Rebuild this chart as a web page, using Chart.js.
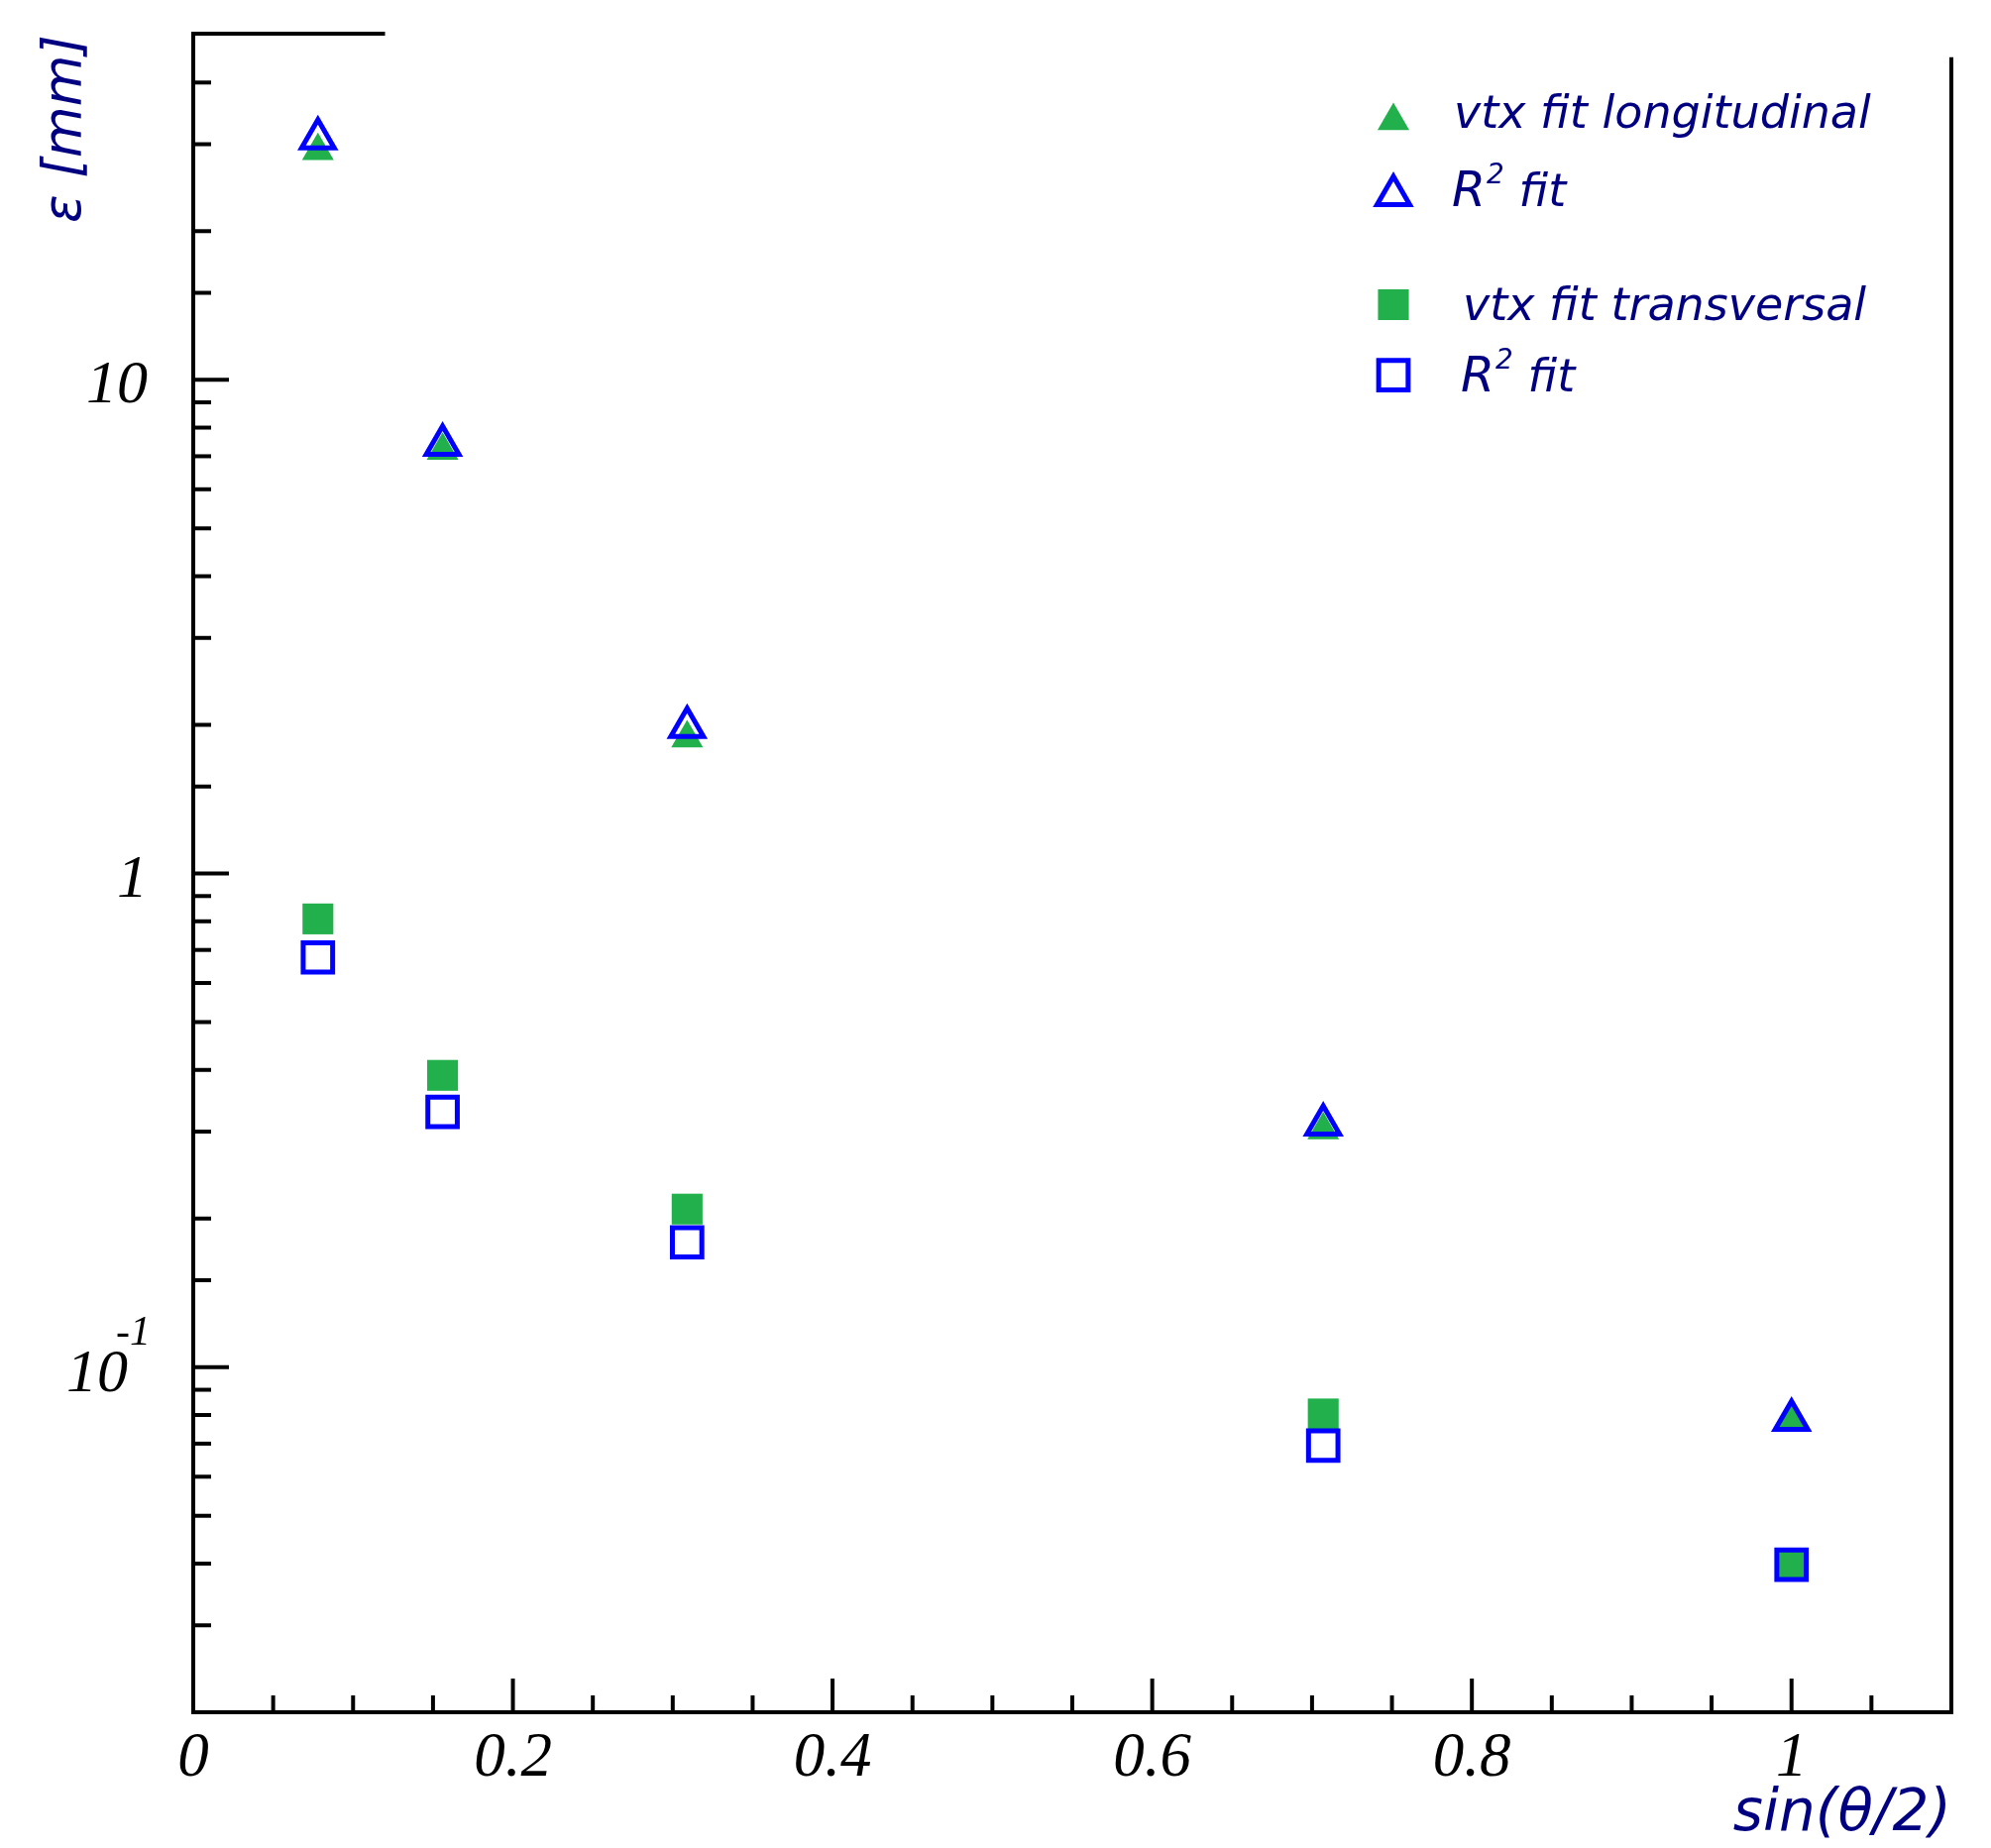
<!DOCTYPE html>
<html>
<head>
<meta charset="utf-8">
<script src="https://cdn.jsdelivr.net/npm/chart.js"></script>
<style>
  html, body { margin: 0; padding: 0; background: #ffffff; }
  #wrap { width: 2009px; height: 1865px; position: relative; }
</style>
</head>
<body>
<div id="wrap"><canvas id="c"></canvas></div>
<script>
// ---------------- data ----------------
const xValues   = [0.078, 0.156, 0.309, 0.707, 1.0];
const longVtx   = [29.1, 7.19, 1.88, 0.302, 0.0772];
const longR2    = [30.8, 7.38, 1.98, 0.310, 0.0782];
const transVtx  = [0.809, 0.390, 0.209, 0.0804, 0.0398];
const transR2   = [0.676, 0.329, 0.179, 0.0694, 0.0398];
const seriesLabels = ['vtx fit longitudinal', 'R² fit', 'vtx fit transversal', 'R² fit'];
const xTickLabels  = ['0', '0.2', '0.4', '0.6', '0.8', '1'];
const yTickValues  = [10, 1, 0.1];
const yTickBases   = ['10', '1', '10'];
const yTickExps    = ['', '', '-1'];
const xTitle = 'sin(θ/2)';
const yTitle = 'ε [mm]';

// ---------------- style ----------------
const GREEN = '#21B04B', BLUE = '#0000FF', NAVY = '#000080';
const SERIF = '"Liberation Serif", "Times New Roman", serif';
const SANS = '"DejaVu Sans", Verdana, sans-serif';
const FRAME_TOP_END_X = 0.12;   // top frame stub ends here (x units)
const FRAME_RIGHT_TOP_Y = 45;   // right frame line starts here (y units)

function pts(ys) { return xValues.map((x, i) => ({ x: x, y: ys[i] })); }

function drawMarker(ctx, style, r, x, y, fill, stroke, bw) {
  ctx.beginPath();
  if (style === 'triangle') {
    let rad = 0;
    ctx.moveTo(x + Math.sin(rad) * r, y - Math.cos(rad) * r);
    rad += 2 * Math.PI / 3;
    ctx.lineTo(x + Math.sin(rad) * r, y - Math.cos(rad) * r);
    rad += 2 * Math.PI / 3;
    ctx.lineTo(x + Math.sin(rad) * r, y - Math.cos(rad) * r);
    ctx.closePath();
  } else {
    const s = Math.SQRT1_2 * r;
    ctx.rect(x - s, y - s, 2 * s, 2 * s);
  }
  if (fill && fill !== 'rgba(0,0,0,0)') { ctx.fillStyle = fill; ctx.fill(); }
  if (bw > 0) { ctx.strokeStyle = stroke; ctx.lineWidth = bw; ctx.stroke(); }
}

const decor = {
  id: 'decor',
  afterDraw(chart) {
    const { ctx, chartArea: ca, scales: { x, y } } = chart;
    ctx.save();
    ctx.strokeStyle = '#000';
    ctx.lineWidth = 4;
    ctx.lineCap = 'butt';
    // inward x ticks
    x.ticks.forEach(t => {
      const v = t.value;
      if (v <= x.min + 1e-9 || v >= x.max - 1e-9) return;
      const px = x.getPixelForValue(v);
      const major = Math.abs(v / 0.2 - Math.round(v / 0.2)) < 1e-6;
      const len = major ? 34 : 17;
      ctx.beginPath(); ctx.moveTo(px, ca.bottom); ctx.lineTo(px, ca.bottom - len); ctx.stroke();
    });
    // inward y ticks
    y.ticks.forEach(t => {
      const v = t.value;
      if (v <= y.min * 1.0001 || v >= y.max * 0.9999) return;
      const py = y.getPixelForValue(v);
      const lg = Math.log10(v);
      const major = Math.abs(lg - Math.round(lg)) < 1e-6;
      const len = major ? 36 : 18;
      ctx.beginPath(); ctx.moveTo(ca.left, py); ctx.lineTo(ca.left + len, py); ctx.stroke();
    });
    // partial frame lines
    const topY = y.getPixelForValue(y.max) - 1;
    ctx.beginPath();
    ctx.moveTo(x.getPixelForValue(x.min) - 2, topY);
    ctx.lineTo(x.getPixelForValue(FRAME_TOP_END_X), topY);
    ctx.stroke();
    const rx = x.getPixelForValue(x.max);
    ctx.beginPath();
    ctx.moveTo(rx, y.getPixelForValue(FRAME_RIGHT_TOP_Y));
    ctx.lineTo(rx, ca.bottom + 2);
    ctx.stroke();

    // y tick labels (with exponent)
    ctx.fillStyle = '#000';
    ctx.textBaseline = 'alphabetic';
    ctx.textAlign = 'right';
    const rightX = ca.left - 46;
    yTickValues.forEach((v, i) => {
      const py = y.getPixelForValue(v);
      const exp = yTickExps[i];
      if (exp) {
        ctx.font = 'italic 42px ' + SERIF;
        ctx.fillText(exp, rightX + 3, py - 23);
        const ew = ctx.measureText(exp).width;
        ctx.font = 'italic 62px ' + SERIF;
        ctx.fillText(yTickBases[i], rightX - ew + 15, py + 24);
      } else {
        ctx.font = 'italic 62px ' + SERIF;
        ctx.fillText(yTickBases[i], rightX, py + 23);
      }
    });

    // legend
    const mx = ca.right - 563;
    const rowsY = [122, 197, 307.5, 378.6];
    const textDX = [61, 59, 70, 68];
    const baseY = [129, 208, 323, 395];
    const ds = chart.data.datasets;
    ds.forEach((d, i) => {
      drawMarker(ctx, d.pointStyle, d.pointRadius, mx, rowsY[i],
        d.pointBackgroundColor, d.pointBorderColor, d.pointBorderWidth);
      ctx.fillStyle = NAVY;
      ctx.textAlign = 'left';
      ctx.textBaseline = 'alphabetic';
      const lbl = d.label;
      let tx = mx + textDX[i];
      if (lbl.startsWith('R²')) {
        ctx.font = 'italic 49px ' + SANS;
        ctx.fillText('R', tx, baseY[i]);
        tx += ctx.measureText('R').width + 1;
        ctx.font = 'italic 28px ' + SANS;
        ctx.fillText('2', tx, baseY[i] - 23);
        tx += ctx.measureText('2').width;
        ctx.font = 'italic 46px ' + SANS;
        ctx.fillText(lbl.slice(2), tx, baseY[i]);
      } else {
        ctx.font = 'italic 46px ' + SANS;
        ctx.fillText(lbl, tx, baseY[i]);
      }
    });
    ctx.restore();
  }
};

new Chart(document.getElementById('c'), {
  type: 'scatter',
  data: {
    datasets: [
      { label: seriesLabels[0], data: pts(longVtx), pointStyle: 'triangle', pointRadius: 18.5,
        pointBackgroundColor: GREEN, pointBorderColor: GREEN, pointBorderWidth: 0, order: 2, clip: false },
      { label: seriesLabels[1], data: pts(longR2), pointStyle: 'triangle', pointRadius: 19,
        pointBackgroundColor: 'rgba(0,0,0,0)', pointBorderColor: BLUE, pointBorderWidth: 5, order: 1, clip: false },
      { label: seriesLabels[2], data: pts(transVtx), pointStyle: 'rect', pointRadius: 22,
        pointBackgroundColor: GREEN, pointBorderColor: GREEN, pointBorderWidth: 0, order: 2, clip: false },
      { label: seriesLabels[3], data: pts(transR2), pointStyle: 'rect', pointRadius: 21,
        pointBackgroundColor: 'rgba(0,0,0,0)', pointBorderColor: BLUE, pointBorderWidth: 5, order: 1, clip: false }
    ]
  },
  options: {
    responsive: true,
    maintainAspectRatio: false,
    devicePixelRatio: 1,
    animation: false,
    layout: { padding: { left: 0, right: 40, top: 35, bottom: 0 } },
    plugins: { legend: { display: false }, tooltip: { enabled: false } },
    scales: {
      x: {
        type: 'linear', min: 0, max: 1.1,
        ticks: {
          stepSize: 0.05, autoSkip: false, maxRotation: 0, minRotation: 0, padding: 10,
          color: '#000', font: { family: SERIF, style: 'italic', size: 63 },
          callback: function (v) {
            const k = v / 0.2;
            if (Math.abs(k - Math.round(k)) < 1e-6) return xTickLabels[Math.round(k)] || '';
            return '';
          }
        },
        grid: { display: false, drawTicks: false },
        border: { display: true, color: '#000', width: 4 },
        title: { display: true, text: xTitle, align: 'end', color: NAVY,
          font: { family: SANS, style: 'italic', size: 58 }, padding: { top: 0, bottom: -2 } },
        afterFit: function (s) { s.height = 137; }
      },
      y: {
        type: 'logarithmic', min: 0.02, max: 50,
        ticks: { display: false, autoSkip: false },
        grid: { display: false, drawTicks: false },
        border: { display: true, color: '#000', width: 4 },
        title: { display: true, text: yTitle, align: 'end', color: NAVY,
          font: { family: SANS, style: 'italic', size: 53 }, padding: { top: 35, bottom: 0 } },
        afterFit: function (s) { s.width = 195; }
      }
    }
  },
  plugins: [decor]
});
</script>
</body>
</html>
